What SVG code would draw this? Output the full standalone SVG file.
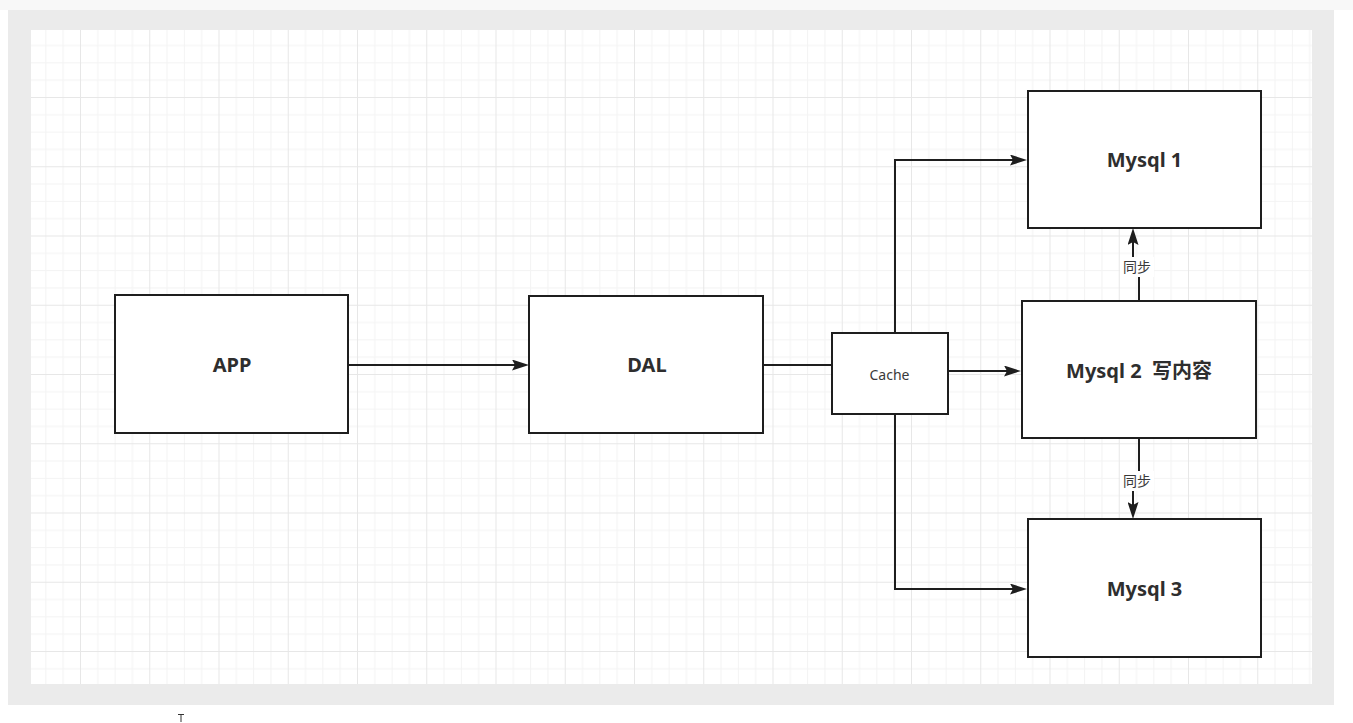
<svg xmlns="http://www.w3.org/2000/svg" width="1353" height="723" viewBox="0 0 1353 723">
  <style>
    .box { fill: #ffffff; stroke: #1e1e1e; stroke-width: 2; }
    .lbl { font-family: "Noto Sans", "Liberation Sans", "Noto Sans CJK SC", sans-serif; font-weight: bold; font-size: 20px; fill: #2e2e2e; text-anchor: middle; white-space: pre; }
    .small { font-family: "Noto Sans", "Liberation Sans", "Noto Sans CJK SC", sans-serif; font-size: 14px; fill: #3a3a3a; text-anchor: middle; }
    .edge { fill: none; stroke: #1e1e1e; stroke-width: 2; }
    .elbl { font-family: "Noto Sans CJK SC", "Noto Sans", sans-serif; font-size: 14px; fill: #3a3a3a; text-anchor: middle; }
  </style>
  <defs>
    <pattern id="grid" patternUnits="userSpaceOnUse" x="80" y="97" width="69.25" height="69.25">
      <rect x="17.3" y="0" width="1" height="69.25" fill="#f3f3f3"/>
      <rect x="34.6" y="0" width="1" height="69.25" fill="#f3f3f3"/>
      <rect x="51.9" y="0" width="1" height="69.25" fill="#f3f3f3"/>
      <rect x="0" y="17.3" width="69.25" height="1" fill="#f3f3f3"/>
      <rect x="0" y="34.6" width="69.25" height="1" fill="#f3f3f3"/>
      <rect x="0" y="51.9" width="69.25" height="1" fill="#f3f3f3"/>
      <rect x="0" y="0" width="1" height="69.25" fill="#e7e7e7"/>
      <rect x="0" y="0" width="69.25" height="1" fill="#e7e7e7"/>
    </pattern>
    <marker id="arrow" viewBox="0 0 17 11" refX="3" refY="5.5" markerWidth="17" markerHeight="11" markerUnits="userSpaceOnUse" orient="auto">
      <path d="M0,0 L17,5.5 L0,11 L3,5.5 Z" fill="#1e1e1e"/>
    </marker>
  </defs>

  <!-- page background -->
  <rect x="0" y="0" width="1353" height="723" fill="#ffffff"/>
  <rect x="0" y="0" width="1353" height="10" fill="#f8f8f8"/>
  <rect x="8" y="10" width="1326" height="695" fill="#ebebeb"/>
  <rect x="31" y="30" width="1281" height="654" fill="#ffffff"/>
  <rect x="31" y="30" width="1281" height="654" fill="url(#grid)"/>

  <!-- connectors -->
  <g id="connectors">
    <path class="edge" d="M349,365 H515" marker-end="url(#arrow)"/>
    <path class="edge" d="M763,365 H832"/>
    <path class="edge" d="M948,371 H1007" marker-end="url(#arrow)"/>
    <path class="edge" d="M895,333 V160 H1013" marker-end="url(#arrow)"/>
    <path class="edge" d="M895,414 V589 H1013" marker-end="url(#arrow)"/>
    <path class="edge" d="M1139,301 V267 H1133 V242" marker-end="url(#arrow)"/>
    <path class="edge" d="M1139,438 V481 H1133 V505" marker-end="url(#arrow)"/>
    <g id="label-sync-1">
      <rect x="1120" y="257" width="34" height="20" fill="#ffffff"/>
      <text class="elbl" x="1137" y="272">同步</text>
    </g>
    <g id="label-sync-2">
      <rect x="1120" y="471" width="34" height="20" fill="#ffffff"/>
      <text class="elbl" x="1137" y="486">同步</text>
    </g>
  </g>

  <!-- nodes -->
  <g id="node-app">
    <rect class="box" x="115" y="295" width="233" height="138"/>
    <text class="lbl" x="232" y="372">APP</text>
  </g>
  <g id="node-dal">
    <rect class="box" x="529" y="296" width="234" height="137"/>
    <text class="lbl" x="647" y="372">DAL</text>
  </g>
  <g id="node-cache">
    <rect class="box" x="832" y="333" width="116" height="81"/>
    <text class="small" x="889.5" y="380">Cache</text>
  </g>
  <g id="node-mysql1">
    <rect class="box" x="1028" y="91" width="233" height="137"/>
    <text class="lbl" x="1144.5" y="167">Mysql 1</text>
  </g>
  <g id="node-mysql2">
    <rect class="box" x="1022" y="301" width="234" height="137"/>
    <text class="lbl" x="1139" y="378">Mysql 2  写内容</text>
  </g>
  <g id="node-mysql3">
    <rect class="box" x="1028" y="519" width="233" height="138"/>
    <text class="lbl" x="1144.5" y="596">Mysql 3</text>
  </g>

  <!-- mouse cursor (I-beam) -->
  <path d="M178,714.5 H184 M181,714.5 V722" stroke="#333333" stroke-width="1" fill="none"/>
</svg>
